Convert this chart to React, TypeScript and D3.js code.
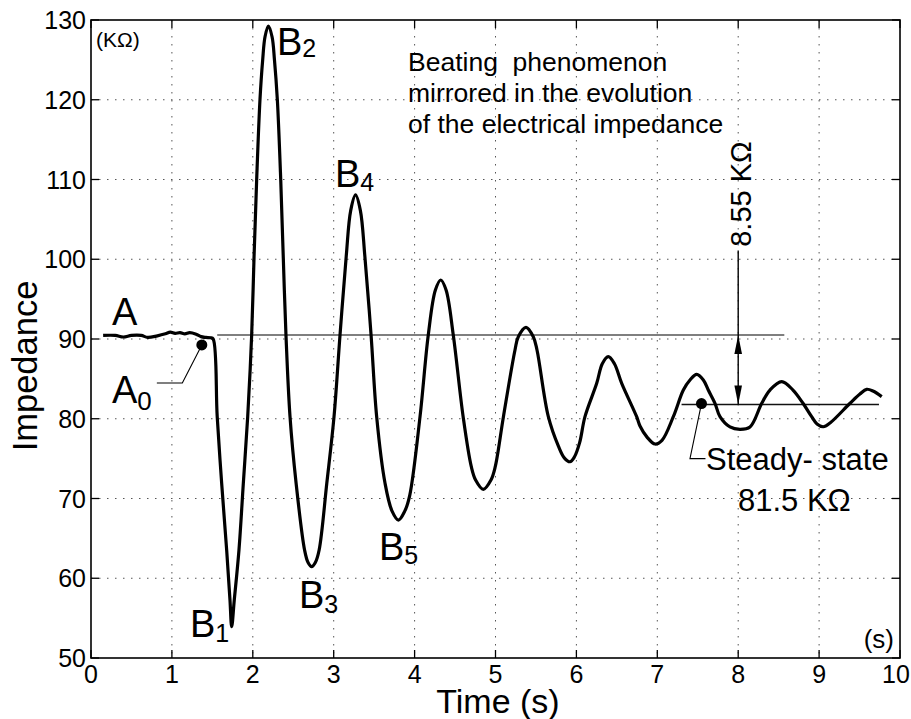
import React from "react";
import * as d3 from "d3";

const times = [
  0.15, 0.3, 0.4, 0.5, 0.62, 0.7, 0.82, 0.92, 0.98, 1.04, 1.1, 1.16, 1.22, 1.3, 1.36, 1.42, 1.48, 1.51,
  1.56, 1.615, 1.677, 1.718, 1.739, 1.771, 1.829, 1.883, 1.937, 1.986, 2.015, 2.048, 2.089, 2.122, 2.151,
  2.192, 2.238, 2.268, 2.303, 2.345, 2.377, 2.41, 2.46, 2.535, 2.64, 2.683, 2.728, 2.773, 2.82, 2.915,
  3.004, 3.078, 3.155, 3.21, 3.27, 3.33, 3.385, 3.462, 3.531, 3.634, 3.72, 3.8, 3.88, 3.94, 4.067,
  4.169, 4.257, 4.323, 4.389, 4.478, 4.6, 4.701, 4.754, 4.849, 4.944, 4.997, 5.098, 5.241, 5.282, 5.377,
  5.467, 5.513, 5.653, 5.78, 5.85, 5.92, 5.975, 6.04, 6.106, 6.251, 6.32, 6.394, 6.47, 6.56, 6.745, 6.786,
  6.873, 6.972, 7.058, 7.198, 7.322, 7.404, 7.487, 7.569, 7.63, 7.713, 7.775, 7.898, 8.022, 8.146, 8.291,
  8.393, 8.538, 8.677, 8.801, 8.908, 8.974, 9.052, 9.135, 9.382, 9.505, 9.588, 9.666, 9.774,
];
const impedance = [
  90.45, 90.45, 90.25, 90.45, 90.45, 90.2, 90.4, 90.65, 90.85, 90.7, 90.8, 90.65, 90.8, 90.6, 90.3, 90.2, 90.15, 90.0,
  80.26, 71.94, 63.54, 57.27, 53.92, 57.27, 63.54, 71.94, 80.26, 90.5, 100.16, 110.03, 120.06, 124.98, 127.9,
  129.25, 127.9, 124.98, 120.06, 110.03, 100.16, 90.5, 80.26, 71.94, 63.54, 61.97, 61.45, 61.97, 63.54, 71.94,
  80.26, 90.5, 100.4, 106.1, 108.06, 106.1, 100.4, 90.5, 80.26, 71.94, 68.45, 67.3, 68.45, 70.4, 80.26,
  90.5, 96.14, 97.4, 96.14, 90.5, 80.26, 73.99, 72.32, 71.15, 72.32, 73.99, 80.26, 88.62, 90.29, 91.47,
  90.29, 88.62, 80.26, 76.5, 75.1, 74.61, 75.2, 77.0, 80.26, 84.44, 86.9, 87.78, 86.9, 84.44, 80.26, 79.1,
  77.7, 76.83, 77.3, 80.26, 83.6, 84.86, 85.57, 84.86, 83.6, 81.94, 80.26, 78.97, 78.68, 78.97, 81.94,
  83.6, 84.65, 83.6, 81.94, 80.26, 79.34, 79.0, 79.47, 81.94, 83.1, 83.69, 83.48, 82.77,
];

const xTicks = [0, 1, 2, 3, 4, 5, 6, 7, 8, 9, 10];
const yTicks = [50, 60, 70, 80, 90, 100, 110, 120, 130];

const initialLevel = 90.5;
const initialLineSpan = [1.56, 8.57];
const steadyLevel = 81.8;
const steadyLineSpan = [7.3, 9.74];
const arrowTime = 8.0;
const arrowTop = 101.1;
const a0Point = [1.37, 89.25];
const steadyPoint = [7.546, 81.9];

const FONT = "'Liberation Sans', Arial, Helvetica, sans-serif";

export default function App() {
  const x = d3.scaleLinear().domain([0, 10]).range([91, 900]);
  const y = d3.scaleLinear().domain([50, 130]).range([658, 20]);
  const data = times.map((t, i) => [t, impedance[i]] as [number, number]);
  const line = d3
    .line<[number, number]>()
    .x((d) => x(d[0]))
    .y((d) => y(d[1]))
    .curve(d3.curveCatmullRom.alpha(0.5));

  const ax = x(arrowTime);
  const yInit = y(initialLevel);
  const ySteady = y(steadyLevel);
  const a0x = x(a0Point[0]);
  const a0y = y(a0Point[1]);
  const ssx = x(steadyPoint[0]);
  const ssy = y(steadyPoint[1]);

  const left = x(0), right = x(10), top = y(130), bottom = y(50);

  return (
    <div style={{ position: "absolute", left: 0, top: 0 }}>
      <svg width={911} height={719} style={{ display: "block", background: "#fff" }} fontFamily={FONT}>
        {/* grid */}
        {xTicks.slice(1, -1).map((t) => (
          <line key={"gx" + t} x1={x(t)} x2={x(t)} y1={top} y2={bottom} stroke="#555" strokeWidth={1} strokeDasharray="1.5 6.5" />
        ))}
        {yTicks.slice(1, -1).map((v) => (
          <line key={"gy" + v} x1={left} x2={right} y1={y(v)} y2={y(v)} stroke="#555" strokeWidth={1} strokeDasharray="1.5 6.5" />
        ))}
        {/* ticks */}
        {xTicks.map((t) => (
          <g key={"tx" + t}>
            <line x1={x(t)} x2={x(t)} y1={bottom} y2={bottom - 8} stroke="#000" strokeWidth={1.3} />
            <line x1={x(t)} x2={x(t)} y1={top} y2={top + 8} stroke="#000" strokeWidth={1.3} />
            <text x={t === 10 ? x(t) - 4 : x(t)} y={683} fontSize={25} textAnchor="middle">{t}</text>
          </g>
        ))}
        {yTicks.map((v) => (
          <g key={"ty" + v}>
            <line x1={left} x2={left + 8} y1={y(v)} y2={y(v)} stroke="#000" strokeWidth={1.3} />
            <line x1={right} x2={right - 8} y1={y(v)} y2={y(v)} stroke="#000" strokeWidth={1.3} />
            <text x={86} y={y(v)} fontSize={25} textAnchor="end" dominantBaseline="central">{v}</text>
          </g>
        ))}
        <rect x={left} y={top} width={right - left} height={bottom - top} fill="none" stroke="#000" strokeWidth={1.6} />

        {/* reference lines */}
        <line x1={x(initialLineSpan[0])} x2={x(initialLineSpan[1])} y1={yInit} y2={yInit} stroke="#555" strokeWidth={1.5} />
        <line x1={x(steadyLineSpan[0])} x2={x(steadyLineSpan[1])} y1={ySteady} y2={ySteady} stroke="#111" strokeWidth={1.5} />

        {/* curve */}
        <path d={line(data) || ""} fill="none" stroke="#000" strokeWidth={3.2} strokeLinejoin="round" />

        {/* arrow */}
        <line x1={ax} x2={ax} y1={y(arrowTop)} y2={ySteady} stroke="#000" strokeWidth={1.4} />
        <path d={`M${ax},${yInit} L${ax - 3.8},${yInit + 19} L${ax + 3.8},${yInit + 19} Z`} fill="#000" />
        <path d={`M${ax},${ySteady} L${ax - 3.8},${ySteady - 19} L${ax + 3.8},${ySteady - 19} Z`} fill="#000" />
        <text transform={`translate(751,194) rotate(-90)`} fontSize={29} textAnchor="middle">8.55 KΩ</text>

        {/* A0 marker */}
        <circle cx={a0x} cy={a0y} r={5.5} fill="#000" />
        <polyline points={`${a0x},${a0y} ${a0x - 19.5},${a0y + 38} ${a0x - 45},${a0y + 38}`} fill="none" stroke="#000" strokeWidth={1.1} />

        {/* Steady-state marker */}
        <circle cx={ssx} cy={ssy} r={5.5} fill="#000" />
        <polyline points={`${ssx},${ssy} ${ssx - 11.5},${ssy + 55} ${ssx + 4},${ssy + 55}`} fill="none" stroke="#000" strokeWidth={1.1} />
        <text x={706} y={470} fontSize={31}>Steady- state</text>
        <text x={738} y={511} fontSize={31}>81.5 KΩ</text>

        {/* point labels */}
        <text x={112} y={325} fontSize={38}>A</text>
        <text x={112} y={403} fontSize={38}>A<tspan fontSize={26} dy={7}>0</tspan></text>
        <text x={190} y={637} fontSize={38}>B<tspan fontSize={25} dy={5}>1</tspan></text>
        <text x={277} y={55} fontSize={38}>B<tspan fontSize={25} dy={2}>2</tspan></text>
        <text x={299} y={608} fontSize={38}>B<tspan fontSize={25} dy={5}>3</tspan></text>
        <text x={335} y={187} fontSize={38}>B<tspan fontSize={25} dy={4}>4</tspan></text>
        <text x={379} y={560} fontSize={38}>B<tspan fontSize={25} dy={4}>5</tspan></text>

        {/* annotation */}
        <text fontSize={26.5} x={408} y={71} style={{ whiteSpace: "pre" }}>Beating  phenomenon</text>
        <text fontSize={26.5} x={408} y={102}>mirrored in the evolution</text>
        <text fontSize={26.5} x={408} y={133}>of the electrical impedance</text>

        {/* units */}
        <text x={96} y={47} fontSize={21}>(KΩ)</text>
        <text x={894} y={648} fontSize={26} textAnchor="end">(s)</text>

        {/* axis titles */}
        <text x={498} y={713} fontSize={34} textAnchor="middle">Time (s)</text>
        <text transform={`translate(37,366) rotate(-90)`} fontSize={34.5} textAnchor="middle">Impedance</text>
      </svg>
    </div>
  );
}
